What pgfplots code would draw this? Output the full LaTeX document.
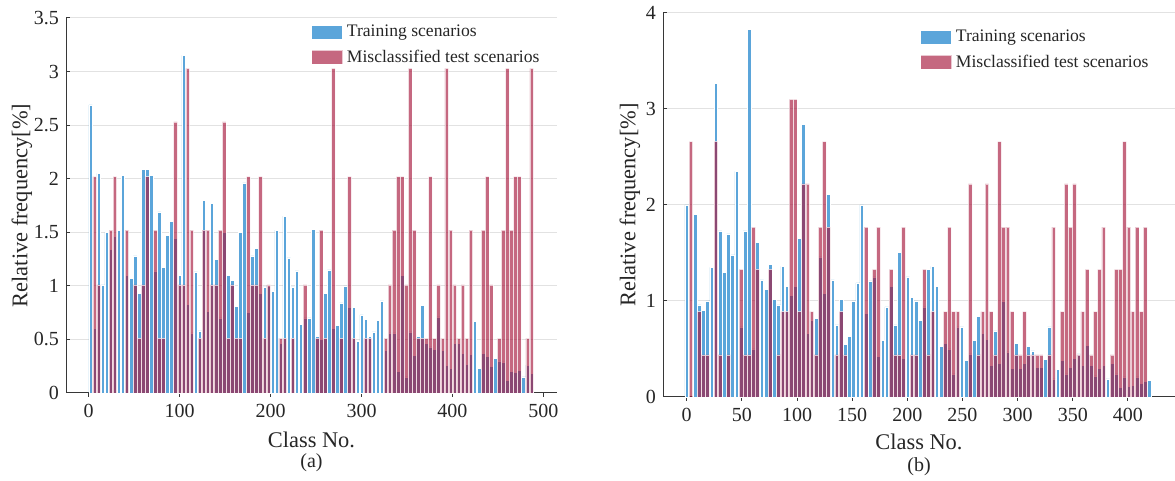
\documentclass[border=0pt]{standalone}
\usepackage{fontspec}
\setmainfont{Liberation Serif}
\usepackage{pgfplots}
\usepackage{pgfplotstable}
\pgfplotsset{compat=1.18}

\definecolor{trainblue}{RGB}{91,165,218}
\definecolor{missred}{RGB}{166,23,60}
\definecolor{gridgray}{RGB}{226,226,226}
\definecolor{axisgray}{RGB}{55,55,55}

% Dataset (a): bin centre (class no.), training share, misclassified share [%]
\pgfplotstableread{
x B R
2.0 2.69 0
6.45 0.6 2.02
10.9 2.05 1.01
15.35 1.01 0
19.8 1.5 0
24.25 1.34 1.52
28.7 1.46 2.02
33.15 1.52 0
37.6 2.03 0
42.05 1.1 1.52
46.5 1.07 0
50.95 1.28 1.01
55.4 0.93 0.51
59.85 2.09 1.01
64.3 2.09 2.02
68.75 2.03 0
73.2 1.14 1.52
77.65 1.69 0.51
82.1 1.17 0.51
86.55 1.47 0
91.0 1.6 0
95.45 1.44 2.53
99.9 1.1 1.01
104.35 3.15 1.01
108.8 0.83 3.03
113.25 0.56 1.52
117.7 1.13 0
122.15 0.58 0.51
126.6 1.8 1.52
131.05 0.76 1.52
135.5 1.77 1.01
139.95 1.25 1.01
144.4 0.7 1.52
148.85 1.5 2.53
153.3 1.1 0.51
157.75 1.05 1.01
162.2 0.81 0.51
166.65 1.5 0.51
171.1 1.96 0
175.55 0.75 2.02
180.0 1.28 1.01
184.45 1.35 1.01
188.9 0.93 2.02
193.35 0.99 0.51
197.8 1.0 1.01
202.25 0.95 0
206.7 1.52 0
211.15 0.46 0.51
215.6 1.65 0.51
220.05 1.26 0
224.5 0.99 0.51
228.95 1.14 0
233.4 0.64 0
237.85 0.7 1.01
242.3 0.7 0
246.75 1.53 0
251.2 0.53 0.51
255.65 0.5 1.52
260.1 0.93 0.51
264.55 1.15 0
269.0 0.6 3.03
273.45 0.63 0
277.9 0.84 0.51
282.35 1.0 0
286.8 0.8 2.02
291.25 0.8 0.51
295.7 0.48 0
300.15 0.73 0
304.6 0.69 0.51
309.05 0.53 0.51
313.5 0.57 0
317.95 0.68 0
322.4 0.86 0
326.85 0.4 0.51
331.3 0.56 1.01
335.75 0.56 1.52
340.2 0.2 2.02
344.65 1.1 2.02
349.1 0.15 1.01
353.55 0.57 3.03
358.0 0.35 1.52
362.45 0.53 0.51
366.9 0.82 0.51
371.35 0.46 0.51
375.8 0.43 2.02
380.25 0.41 0.51
384.7 0.71 1.01
389.15 0.4 0.51
393.6 0.26 3.03
398.05 0.23 1.52
402.5 0.46 1.01
406.95 0.46 0.51
411.4 0.37 1.01
415.85 0.27 0.51
420.3 0.36 1.52
424.75 0.67 0
429.2 0.23 0
433.65 0.37 1.52
438.1 0.34 2.02
442.55 0.25 1.01
447.0 0.32 0
451.45 0.3 0.51
455.9 0.29 1.52
460.35 0.12 3.03
464.8 0.2 1.52
469.25 0.19 2.02
473.7 0.21 2.02
478.15 0.15 0
482.6 0.26 0.51
487.05 0.18 3.03
}\dataA

% Dataset (b)
\pgfplotstableread{
x B R
0 2.0 0
3.78 0 2.66
7.56 1.9 0
11.34 0.96 0.89
15.12 0.9 0.44
18.9 1.0 0.44
22.68 1.35 0
26.46 3.27 2.66
30.24 1.73 0.44
34.02 1.3 0
37.8 1.7 0.44
41.58 1.48 0
45.36 2.35 0
49.14 0.73 1.33
52.92 1.73 0.44
56.7 3.83 0.44
60.48 0.5 1.77
64.26 1.61 1.33
68.04 1.22 0
71.82 1.12 0
75.6 1.38 1.33
79.38 1.02 0
83.16 0.96 0.44
86.94 1.36 0.89
90.72 1.15 0.89
94.5 1.06 3.1
98.28 1.15 3.1
102.06 1.65 0.89
105.84 2.84 2.22
109.62 0.66 2.22
113.4 0.8 0.89
117.18 0.82 0.44
120.96 1.46 1.77
124.74 1.08 2.66
128.52 2.11 1.77
132.3 1.22 0
136.08 0.75 0.44
139.86 1.02 0.89
143.64 0.55 0.44
147.42 0.63 0
151.2 1.0 0
154.98 1.19 0
158.76 2.0 0
162.54 0.87 1.77
166.32 1.21 0
170.1 1.25 1.33
173.88 0.42 1.77
177.66 0.59 0
181.44 0.94 0
185.22 1.15 1.33
189.0 0.75 0.44
192.78 1.51 0.44
196.56 0.4 1.77
200.34 1.25 0
204.12 1.04 0.44
207.9 1.0 0.44
211.68 0.8 0
215.46 0.94 1.33
219.24 1.33 0.44
223.02 1.36 0.89
226.8 1.15 0
230.58 0.53 0
234.36 0.56 0.89
238.14 0.5 1.77
241.92 0.24 0.89
245.7 0.73 0.89
249.48 0.73 0
253.26 0.38 0
257.04 0.45 2.22
260.82 0.59 0
264.6 0.84 0.44
268.38 0.66 0.89
272.16 0.6 2.22
275.94 0.33 0.89
279.72 0.69 0.44
283.5 0.35 2.66
287.28 1.0 1.77
291.06 0.47 1.77
294.84 0.3 0.89
298.62 0.56 0.44
302.4 0.3 0.44
306.18 0.35 0.89
309.96 0.53 0.44
313.74 0.48 0.44
317.52 0.31 0.44
321.3 0.31 0.44
325.08 0.39 0
328.86 0.73 0.44
332.64 0.19 1.77
336.42 0.29 0
340.2 0.38 0.89
343.98 0.24 2.22
347.76 0.31 1.77
351.54 0.4 2.22
355.32 0.45 0.44
359.1 0.33 0.89
362.88 0.54 1.33
366.66 0.33 0.44
370.44 0.22 0.89
374.22 0.3 1.33
378.0 0.33 1.77
381.78 0.19 0
385.56 0.35 0.44
389.34 0.24 1.33
393.12 0.1 1.33
396.9 0.21 2.66
400.68 0.11 1.77
404.46 0.12 0.89
408.24 0.21 1.77
412.02 0.14 0.89
415.8 0.16 1.77
419.58 0.17 0
}\dataB

\pgfplotsset{
  freqaxis/.style={
    scale only axis,
    axis x line*=bottom, axis y line*=left,
    axis line style={axisgray, line width=0.5pt},
    ymin=0,
    ymajorgrids, grid style={gridgray, line width=0.5pt},
    tick align=inside,
    major tick length=2pt,
    tick style={axisgray, line width=0.5pt},
    /pgf/number format/assume math mode=true,
    tick label style={font=\fontsize{10}{12}\selectfont, text=black!85},
    label style={font=\fontsize{11.2}{13.4}\selectfont, text=black!85},
    xlabel={Class No.},
    ylabel={Relative frequency[\%]},
    ybar, bar shift=0pt,
    restrict y to domain=0.001:100,
    legend style={draw=none, fill=none, inner sep=0pt, anchor=north west,
      font=\fontsize{8.8}{10}\selectfont, text=black!85,
      cells={anchor=west}, row sep=1.2pt},
    legend image code/.code={\fill[#1] (0pt,-3.5pt) rectangle (15.5pt,3.5pt);},
    clip=false,
  },
  trainbars/.style={fill=trainblue, draw=white, line width=0.25pt},
  missbars/.style={fill=missred, draw=white, line width=0.25pt, opacity=0.65},
}

\begin{document}
\begin{tikzpicture}
% panel (a)
\begin{axis}[freqaxis,
  at={(33pt,44pt)}, anchor=south west,
  width=245.5pt, height=187.5pt,
  xmin=-25, xmax=515, ymax=3.5,
  xtick={0,100,...,500},
  ytick={0,0.5,...,3.5},
  bar width=3.9,
  xlabel style={at={(axis description cs:0.5,0)}, anchor=center, yshift=-23.5pt},
  ylabel style={at={(axis description cs:-0.0896,0.5)}, anchor=center},
  legend style={at={(0.499,0.994)}},
]
\addplot[trainbars] table[x=x, y=B] {\dataA};
\addlegendentry{Training scenarios}
\addplot[missbars] table[x=x, y=R] {\dataA};
\addlegendentry{Misclassified test scenarios}
\node[font=\fontsize{10}{12}\selectfont, text=black!85, yshift=-35pt] at (rel axis cs:0.5,0) {(a)};
\end{axis}
% panel (b)
\begin{axis}[freqaxis,
  at={(331.5pt,42pt)}, anchor=south west,
  width=256pt, height=192pt,
  xmin=-21.5, xmax=442.7, ymax=4,
  xtick={0,50,...,400},
  ytick={0,1,...,4},
  bar width=3.35,
  xlabel style={at={(axis description cs:0.5,0)}, anchor=center, yshift=-22.5pt},
  ylabel style={at={(axis description cs:-0.0645,0.5)}, anchor=center},
  legend style={at={(0.502,0.968)}},
]
\addplot[trainbars] table[x=x, y=B] {\dataB};
\addlegendentry{Training scenarios}
\addplot[missbars] table[x=x, y=R] {\dataB};
\addlegendentry{Misclassified test scenarios}
\node[font=\fontsize{10}{12}\selectfont, text=black!85, yshift=-35pt] at (rel axis cs:0.5,0) {(b)};
\end{axis}
\pgfresetboundingbox
\useasboundingbox (0,0) rectangle (587.5pt,240.5pt);
\end{tikzpicture}
\end{document}
